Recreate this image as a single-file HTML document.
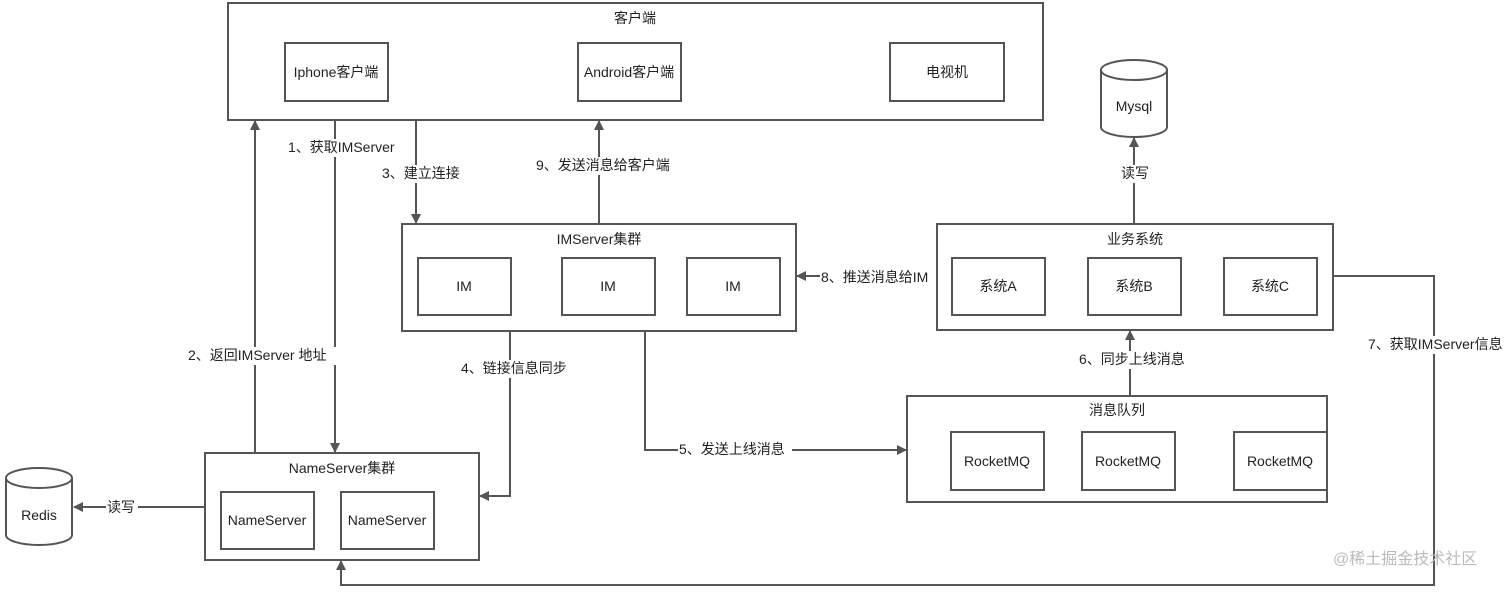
<!DOCTYPE html>
<html><head><meta charset="utf-8"><style>
html,body{margin:0;padding:0;background:#fff;}
svg text{font-family:"Liberation Sans","Noto Sans CJK SC",sans-serif;font-size:14px;fill:#222;}
</style></head><body>
<svg width="1512" height="588" viewBox="0 0 1512 588" xmlns="http://www.w3.org/2000/svg">
<defs><marker id="a" markerWidth="10" markerHeight="10" refX="9" refY="5" orient="auto" markerUnits="userSpaceOnUse"><path d="M0,0 L10,5 L0,10 z" fill="#555"/></marker></defs>
<g fill="none" stroke="#555" stroke-width="2">
<rect x="228" y="3" width="815" height="117"/>
<rect x="285" y="43" width="103" height="58"/>
<rect x="578" y="43" width="103" height="58"/>
<rect x="890" y="43" width="114" height="58"/>
<rect x="402" y="224" width="394" height="107"/>
<rect x="418" y="258" width="93" height="57"/>
<rect x="562" y="258" width="93" height="57"/>
<rect x="687" y="258" width="93" height="57"/>
<rect x="937" y="224" width="396" height="106"/>
<rect x="952" y="258" width="93" height="57"/>
<rect x="1088" y="258" width="93" height="57"/>
<rect x="1224" y="258" width="93" height="57"/>
<rect x="907" y="396" width="420" height="106"/>
<rect x="951" y="432" width="93" height="58"/>
<rect x="1082" y="432" width="93" height="58"/>
<rect x="1234" y="432" width="93" height="58"/>
<rect x="205" y="453" width="274" height="107"/>
<rect x="221" y="492" width="93" height="57"/>
<rect x="341" y="492" width="93" height="57"/>
<path d="M6,478 L6,535 A33,10 0 0 0 72,535 L72,478"/>
<ellipse cx="39" cy="478" rx="33" ry="10"/>
<path d="M1101,70 L1101,127 A33,10 0 0 0 1167,127 L1167,70"/>
<ellipse cx="1134" cy="70" rx="33" ry="10"/>
<path d="M255,453 V121" marker-end="url(#a)"/>
<path d="M335,120 V452" marker-end="url(#a)"/>
<path d="M416,120 V223" marker-end="url(#a)"/>
<path d="M599,224 V121" marker-end="url(#a)"/>
<path d="M510,331 V496 H480" marker-end="url(#a)"/>
<path d="M645,331 V450 H906" marker-end="url(#a)"/>
<path d="M1130,396 V331" marker-end="url(#a)"/>
<path d="M937,276 H797" marker-end="url(#a)"/>
<path d="M1134,224 V138" marker-end="url(#a)"/>
<path d="M205,507 H74" marker-end="url(#a)"/>
<path d="M1333,276 H1434 V585 H341 V561" marker-end="url(#a)"/>
</g>
<g text-anchor="middle">
<text x="635" y="23">客户端</text>
<text x="336" y="77">Iphone客户端</text>
<text x="629" y="77">Android客户端</text>
<text x="947" y="77">电视机</text>
<text x="1134" y="111">Mysql</text>
<text x="599" y="244">IMServer集群</text>
<text x="464" y="291">IM</text>
<text x="608" y="291">IM</text>
<text x="733" y="291">IM</text>
<text x="1135" y="244">业务系统</text>
<text x="998" y="291">系统A</text>
<text x="1134" y="291">系统B</text>
<text x="1270" y="291">系统C</text>
<text x="1117" y="415">消息队列</text>
<text x="997" y="466">RocketMQ</text>
<text x="1128" y="466">RocketMQ</text>
<text x="1280" y="466">RocketMQ</text>
<text x="342" y="473">NameServer集群</text>
<text x="267" y="525">NameServer</text>
<text x="387" y="525">NameServer</text>
<text x="39" y="520">Redis</text>
</g>
<g>
<rect x="287" y="139" width="118" height="18" fill="#fff"/>
<text x="288" y="152">1、获取IMServer</text>
<rect x="380" y="165" width="86" height="18" fill="#fff"/>
<text x="382" y="178">3、建立连接</text>
<rect x="535" y="157" width="142" height="18" fill="#fff"/>
<text x="536" y="170">9、发送消息给客户端</text>
<rect x="186" y="347" width="154" height="18" fill="#fff"/>
<text x="188" y="360">2、返回IMServer 地址</text>
<rect x="460" y="360" width="116" height="18" fill="#fff"/>
<text x="461" y="373">4、链接信息同步</text>
<rect x="678" y="441" width="114" height="18" fill="#fff"/>
<text x="679" y="454">5、发送上线消息</text>
<rect x="1078" y="351" width="116" height="18" fill="#fff"/>
<text x="1079" y="364">6、同步上线消息</text>
<rect x="820" y="268" width="116" height="18" fill="#fff"/>
<text x="821" y="282">8、推送消息给IM</text>
<rect x="1120" y="165" width="34" height="18" fill="#fff"/>
<text x="1121" y="178">读写</text>
<rect x="106" y="499" width="32" height="18" fill="#fff"/>
<text x="107" y="512">读写</text>
<rect x="1369" y="336" width="140" height="18" fill="#fff"/>
<text x="1368" y="349">7、获取IMServer信息</text>
<text x="1333" y="564" style="font-size:16px;fill:#bbb">@稀土掘金技术社区</text>
</g>
</svg>
</body></html>
